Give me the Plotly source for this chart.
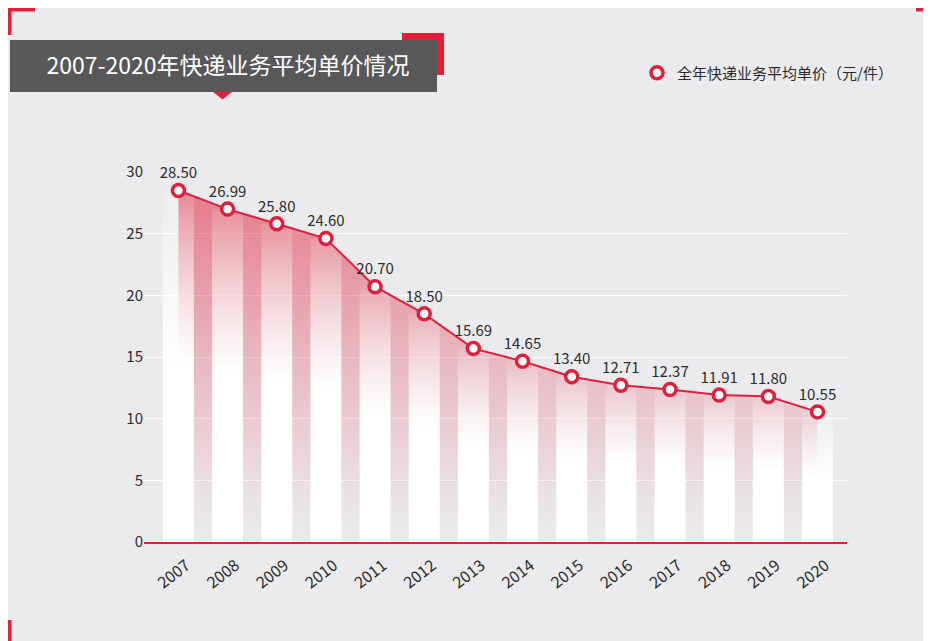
import plotly.graph_objects as go

years = [2007, 2008, 2009, 2010, 2011, 2012, 2013, 2014, 2015, 2016, 2017, 2018, 2019, 2020]
prices = [28.50, 26.99, 25.80, 24.60, 20.70, 18.50, 15.69, 14.65, 13.40, 12.71, 12.37, 11.91, 11.80, 10.55]
series_name = "全年快递业务平均单价（元/件）"
title_text = "2007-2020年快递业务平均单价情况"
y_ticks = [0, 5, 10, 15, 20, 25, 30]

RED = "#e0203a"
BG = "#ebebed"
FONT = "Noto Sans CJK SC"
OFF = 8  # page margin of the browser
W, H = 923, 633
L, R, T, B = 136, 84, 164, 99
PW, PH = W - L - R, H - T - B


def px(x):
    """reference-screen x pixel -> paper coordinate"""
    return (x - OFF - L) / PW


def py(y):
    """reference-screen y pixel -> paper coordinate"""
    return (H - B - (y - OFF)) / PH


fig = go.Figure()

# red gradient area under the line
fig.add_trace(go.Scatter(
    x=years, y=prices, mode="none", fill="tozeroy",
    fillgradient=dict(type="vertical", start=0, stop=max(prices),
                      colorscale=[[0, "rgba(224,32,58,0)"], [0.12, "rgba(224,32,58,0.04)"],
                                  [0.5, "rgba(224,32,58,0.24)"], [1, "rgba(224,32,58,0.55)"]]),
    showlegend=False, hoverinfo="skip"))

# white gradient columns
half = 0.315
for yr, v in zip(years, prices):
    fig.add_trace(go.Scatter(
        x=[yr - half, yr + half, yr + half, yr - half, yr - half],
        y=[0, 0, v, v, 0], mode="none", fill="toself",
        fillgradient=dict(type="vertical", start=0, stop=v,
                          colorscale=[[0, "rgba(255,255,255,1)"], [0.5, "rgba(255,255,255,1)"],
                                      [1, "rgba(255,255,255,0.1)"]]),
        showlegend=False, hoverinfo="skip"))

# line
fig.add_trace(go.Scatter(x=years, y=prices, mode="lines", line=dict(color=RED, width=2),
                         showlegend=False, hoverinfo="skip"))

# markers + labels
fig.add_trace(go.Scatter(
    x=years, y=prices, mode="markers+text", name=series_name,
    marker=dict(size=12, color="white", line=dict(color=RED, width=3.5)),
    text=[f"{v:.2f}" for v in prices], textposition="top center",
    textfont=dict(size=15, color="#2b2b2b", family=FONT), cliponaxis=False))

shapes = []
# corner marks
for (x0, x1, y0, y1) in [(8, 11.5, 8, 35), (8, 35, 8, 11.5), (916, 931, 8, 11.5), (8, 11.5, 620, 641)]:
    shapes.append(dict(type="rect", xref="paper", yref="paper", x0=px(x0), x1=px(x1), y0=py(y0), y1=py(y1),
                       fillcolor=RED, line_width=0))
# title decorations
shapes.append(dict(type="rect", xref="paper", yref="paper", x0=px(402), x1=px(444), y0=py(33), y1=py(75),
                   fillcolor=RED, line_width=0))
shapes.append(dict(type="rect", xref="paper", yref="paper", x0=px(10), x1=px(437), y0=py(40), y1=py(92),
                   fillcolor="#58585a", line_width=0))
shapes.append(dict(type="path", xref="paper", yref="paper",
                   path=f"M {px(213)},{py(92)} L {px(232)},{py(92)} L {px(222.5)},{py(99.5)} Z",
                   fillcolor=RED, line_width=0))

fig.update_layout(
    width=W, height=H,
    margin=dict(l=L, r=R, t=T, b=B),
    paper_bgcolor=BG, plot_bgcolor="rgba(0,0,0,0)",
    font=dict(family=FONT, color="#2b2b2b", size=14),
    title=dict(text=title_text, x=(228 - OFF) / W, y=1 - (66 - OFF) / H, xanchor="center", yanchor="middle",
               xref="container", yref="container", font=dict(size=23, color="white", family=FONT)),
    shapes=shapes,
    showlegend=True,
    legend=dict(x=px(637), y=py(73), xanchor="left", yanchor="middle", bgcolor="rgba(0,0,0,0)",
                font=dict(size=15, color="#2b2b2b", family=FONT)),
    xaxis=dict(range=[2006.3, 2020.6], tickvals=years, ticktext=[str(y) for y in years],
               tickangle=-38, showgrid=False, zeroline=False, showline=True, linecolor=RED, linewidth=2,
               ticks="", ticklabelshift=8, ticklabelstandoff=6, tickfont=dict(size=16, color="#2b2b2b")),
    yaxis=dict(range=[0, 30], tickvals=y_ticks, showgrid=True, gridcolor="white", gridwidth=1,
               zeroline=False, showline=False, ticks="", tickfont=dict(size=15, color="#2b2b2b")),
)

fig.write_html("out.html")
